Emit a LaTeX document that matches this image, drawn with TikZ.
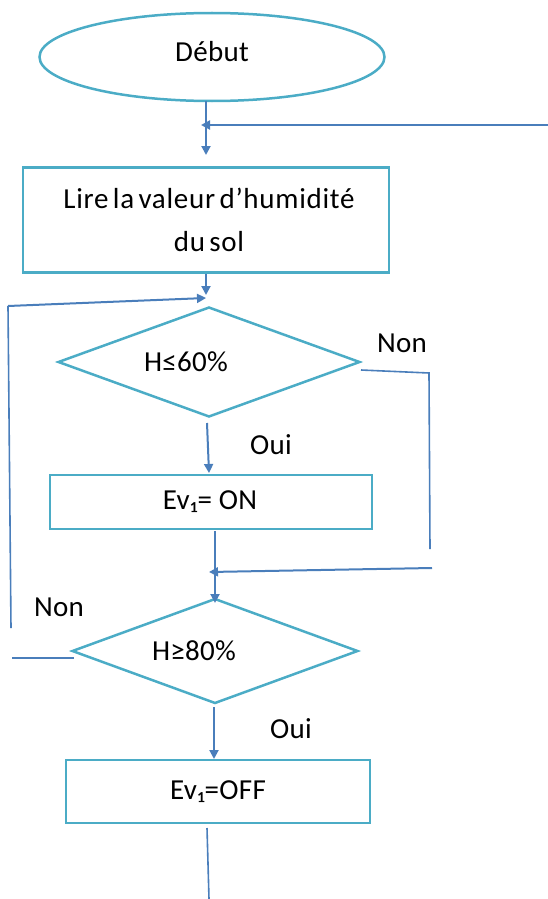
\documentclass[tikz,border=0pt]{standalone}
\usepackage{fontspec}
\setmainfont{Carlito}[LetterSpace=1]
\newfontfamily\widefont{Carlito}[LetterSpace=2.5,WordSpace=0.6]
\usetikzlibrary{shapes.geometric,arrows.meta}
\definecolor{shapecol}{HTML}{4BACC6}
\definecolor{linecol}{HTML}{4A7EBB}
\tikzset{
  shp/.style={draw=shapecol,line width=2.5pt,inner sep=0pt},
  boxnode/.style={shp,rectangle},
  dia/.style={shp,diamond,aspect=2.75},
  txt/.style={inner sep=0pt,font=\fontsize{29}{35}\selectfont},
  conn/.style={draw=linecol,line width=2pt},
  thin/.style={draw=linecol,line width=1.6pt},
  arr/.style={conn,-{Triangle[length=9pt,width=9pt]}},
}
\begin{document}
\begin{tikzpicture}[x=1pt,y=-1pt]
\useasboundingbox (0,0) rectangle (548,899);
% shapes
\node[shp,ellipse,minimum width=345pt,minimum height=88pt] (start) at (212,57) {};
\node[txt] (tstart) at (212,52) {Début};
\node[boxnode,minimum width=366pt,minimum height=105pt] (read) at (206,220) {};
\node[txt,align=center,font=\widefont\fontsize{29}{35}\selectfont] (tread) at (209,220) {Lire la valeur d’humidité\\[8pt]du sol};
\node[dia,minimum width=302pt,minimum height=110pt] (d1) at (209,362) {};
\node[txt] (td1) at (186,362) {H≤60\%};
\node[boxnode,minimum width=322pt,minimum height=54pt] (on) at (211,502) {};
\node[txt] (ton) at (210,502) {Ev₁= ON};
\node[dia,minimum width=286pt,minimum height=105pt] (d2) at (215,651) {};
\node[txt] (td2) at (194,651) {H≥80\%};
\node[boxnode,minimum width=304pt,minimum height=63pt] (off) at (218,791.5) {};
\node[txt] (toff) at (218,792) {Ev₁=OFF};
% labels
\node[txt] (non1) at (402,343) {Non};
\node[txt] (oui1) at (271,445) {Oui};
\node[txt] (non2) at (59,607) {Non};
\node[txt] (oui2) at (291,729) {Oui};
% coordinates
\coordinate (a1) at (206,155);
\coordinate (r0) at (548,125);
\coordinate (r1) at (201,125);
\coordinate (a2) at (206,295);
\coordinate (l0) at (11,628);
\coordinate (l1) at (8,306);
\coordinate (l2) at (206,298);
\coordinate (n0) at (361,370);
\coordinate (n1) at (429,373);
\coordinate (n2) at (430,549);
\coordinate (m0) at (432,568);
\coordinate (m1) at (209,572);
\coordinate (o0) at (207,423);
\coordinate (o1) at (209,473);
\coordinate (p0) at (215,531);
\coordinate (p1) at (215,603);
\coordinate (q0) at (214,707);
\coordinate (q1) at (214,759);
\coordinate (s0) at (74,658);
\coordinate (s1) at (12,658);
\coordinate (e0) at (207,828);
\coordinate (e1) at (209,899);
% connectors
\draw[arr] (206,101) -- (a1);
\draw[arr] (r0) -- (r1);
\draw[arr] (read.south) -- (a2);
\draw[thin] (l0) -- (l1);
\draw[arr] (l1) -- (l2);
\draw[thin] (n0) -- (n1) -- (n2);
\draw[arr] (m0) -- (m1);
\draw[arr] (o0) -- (o1);
\draw[arr] (p0) -- (p1);
\draw[arr] (q0) -- (q1);
\draw[thin] (s0) -- (s1);
\draw[thin] (e0) -- (e1);
\end{tikzpicture}
\end{document}
